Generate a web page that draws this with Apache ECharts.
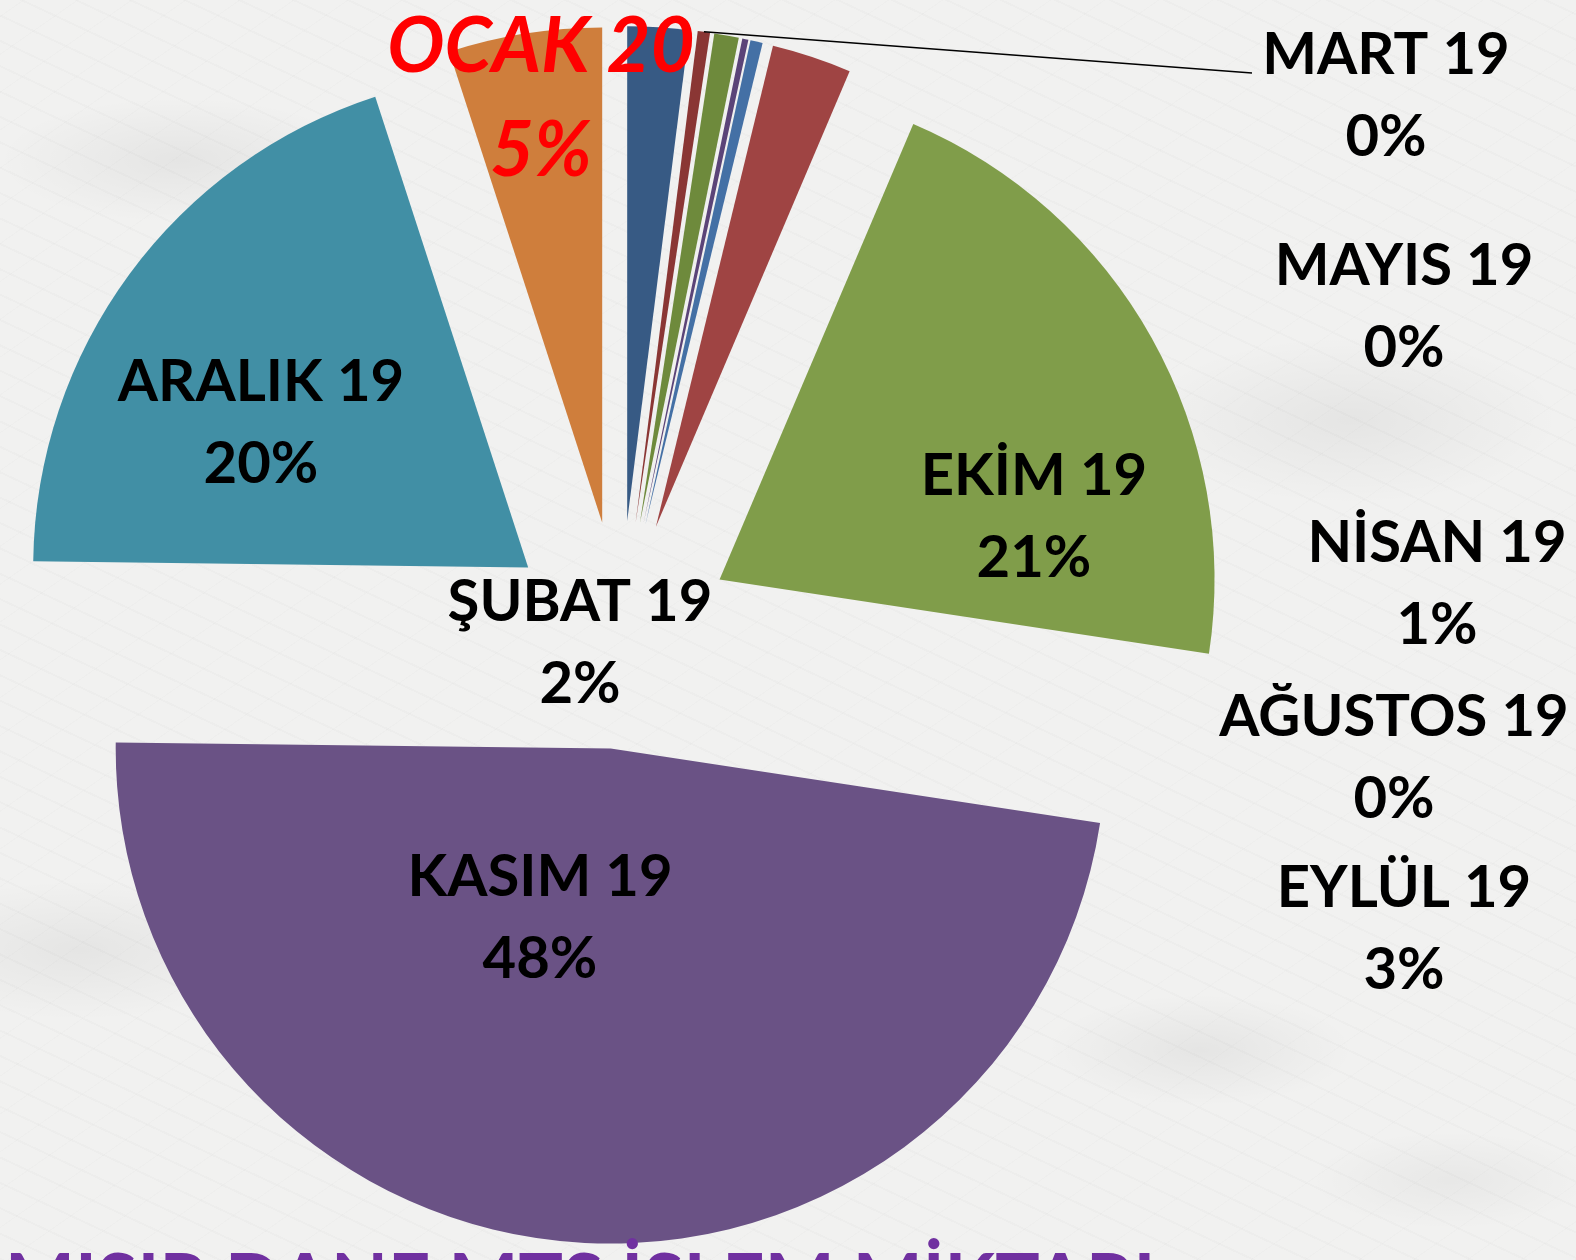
<!DOCTYPE html>
<html>
<head>
<meta charset="utf-8">
<title>Mısır Dane MTS İşlem Miktarı</title>
<script src="https://cdn.jsdelivr.net/npm/echarts@6/dist/echarts.min.js"></script>
<style>
  html, body {
    margin: 0;
    padding: 0;
    width: 1576px;
    height: 1260px;
    overflow: hidden;
  }
  body {
    background-color: #f1f1f0;
    background-image:
      radial-gradient(ellipse 260px 90px at 180px 160px, rgba(0,0,0,0.05), transparent 70%),
      radial-gradient(ellipse 300px 120px at 1350px 420px, rgba(0,0,0,0.05), transparent 70%),
      radial-gradient(ellipse 220px 80px at 1200px 1050px, rgba(0,0,0,0.05), transparent 70%),
      radial-gradient(ellipse 280px 100px at 80px 950px, rgba(0,0,0,0.05), transparent 70%),
      radial-gradient(ellipse 200px 70px at 1450px 1180px, rgba(0,0,0,0.04), transparent 70%),
      repeating-linear-gradient(25deg, rgba(0,0,0,0.015) 0 2px, transparent 2px 23px),
      repeating-linear-gradient(-35deg, rgba(0,0,0,0.012) 0 1px, transparent 1px 31px);
  }
  #chart {
    width: 1576px;
    height: 1260px;
  }
</style>
</head>
<body>
<div id="chart"></div>
<script>
// pay (%)
const months = ['ŞUBAT 19', 'MART 19', 'NİSAN 19', 'MAYIS 19', 'AĞUSTOS 19', 'EYLÜL 19', 'EKİM 19', 'KASIM 19', 'ARALIK 19', 'OCAK 20']
const shares = [2, 0.4, 0.8, 0.2, 0.4, 2.6, 21, 47.8, 19.8, 5]
const colors = ['#375a84', '#8a3634', '#6e8a3c', '#5b4478', '#4470a5', '#9f4443', '#809d4a', '#6a5285', '#418fa5', '#cf7e3c']
const title = 'MISIR DANE MTS İŞLEM MİKTARI'

const CENTER = [620, 635]
const RADIUS = 495
const EXPLODE = 114

// etiket yerleri (ekran koordinatı)
const labelSpots = {
  'ŞUBAT 19': { x: 580, y: 643 },
  'MART 19': { x: 1386, y: 96, lineTo: [1252, 73] },
  'NİSAN 19': { x: 1437, y: 584 },
  'MAYIS 19': { x: 1404, y: 307 },
  'AĞUSTOS 19': { x: 1394, y: 758 },
  'EYLÜL 19': { x: 1404, y: 929 },
  'EKİM 19': { x: 1034, y: 517 },
  'KASIM 19': { x: 540, y: 918 },
  'ARALIK 19': { x: 261, y: 423 },
  'OCAK 20': { x: 541, y: 99 }
}

const chart = echarts.init(document.getElementById('chart'), null, { renderer: 'canvas' })

// dilimler (patlatılmış)
const sliceData = months.map((name, i) => ({
  name,
  value: shares[i],
  selected: true,
  itemStyle: { color: colors[i] }
}))

// etiketler için görünmez kopya
const labelData = months.map((name, i) => {
  const item = { name, value: shares[i] }
  if (name === 'OCAK 20') {
    item.label = {
      color: '#ff0000',
      fontStyle: 'italic',
      fontSize: 76,
      lineHeight: 104
    }
  }
  if (name === 'MART 19') {
    item.labelLine = { show: true }
  }
  return item
})

chart.setOption({
  backgroundColor: 'transparent',
  animation: false,
  title: {
    text: title,
    left: 0,
    top: 1241,
    textStyle: {
      color: '#7030a0',
      fontFamily: 'Lato',
      fontWeight: 'bold',
      fontSize: 74
    }
  },
  series: [{
    type: 'pie',
    z: 1,
    center: CENTER,
    radius: RADIUS,
    startAngle: 90,
    clockwise: true,
    selectedMode: 'multiple',
    selectedOffset: EXPLODE,
    silent: true,
    data: sliceData,
    itemStyle: { borderWidth: 0 },
    label: { show: false },
    labelLine: { show: false }
  }, {
    type: 'pie',
    z: 5,
    center: CENTER,
    radius: RADIUS,
    startAngle: 90,
    clockwise: true,
    silent: true,
    avoidLabelOverlap: false,
    data: labelData,
    itemStyle: { color: 'transparent', borderWidth: 0 },
    label: {
      show: true,
      position: 'outside',
      color: '#000',
      fontFamily: 'Lato',
      fontWeight: 'bold',
      fontSize: 58,
      lineHeight: 82,
      align: 'center',
      formatter: p => p.name + '\n' + Math.round(p.percent) + '%'
    },
    labelLine: {
      show: false,
      length: 0,
      length2: 0,
      lineStyle: { color: '#000', width: 1.5 }
    },
    labelLayout: params => {
      const spot = labelSpots[months[params.dataIndex]]
      const out = { x: spot.x, y: spot.y, align: 'center', verticalAlign: 'middle' }
      if (spot.lineTo && params.labelLinePoints) {
        // dilimin dış ucu, patlatma kadar kaydırılmış
        const p0 = params.labelLinePoints[0]
        const dx = p0[0] - CENTER[0]
        const dy = p0[1] - CENTER[1]
        const len = Math.sqrt(dx * dx + dy * dy)
        const start = [p0[0] + dx / len * EXPLODE, p0[1] + dy / len * EXPLODE]
        out.labelLinePoints = [start, spot.lineTo]
      }
      return out
    }
  }]
})
</script>
</body>
</html>
